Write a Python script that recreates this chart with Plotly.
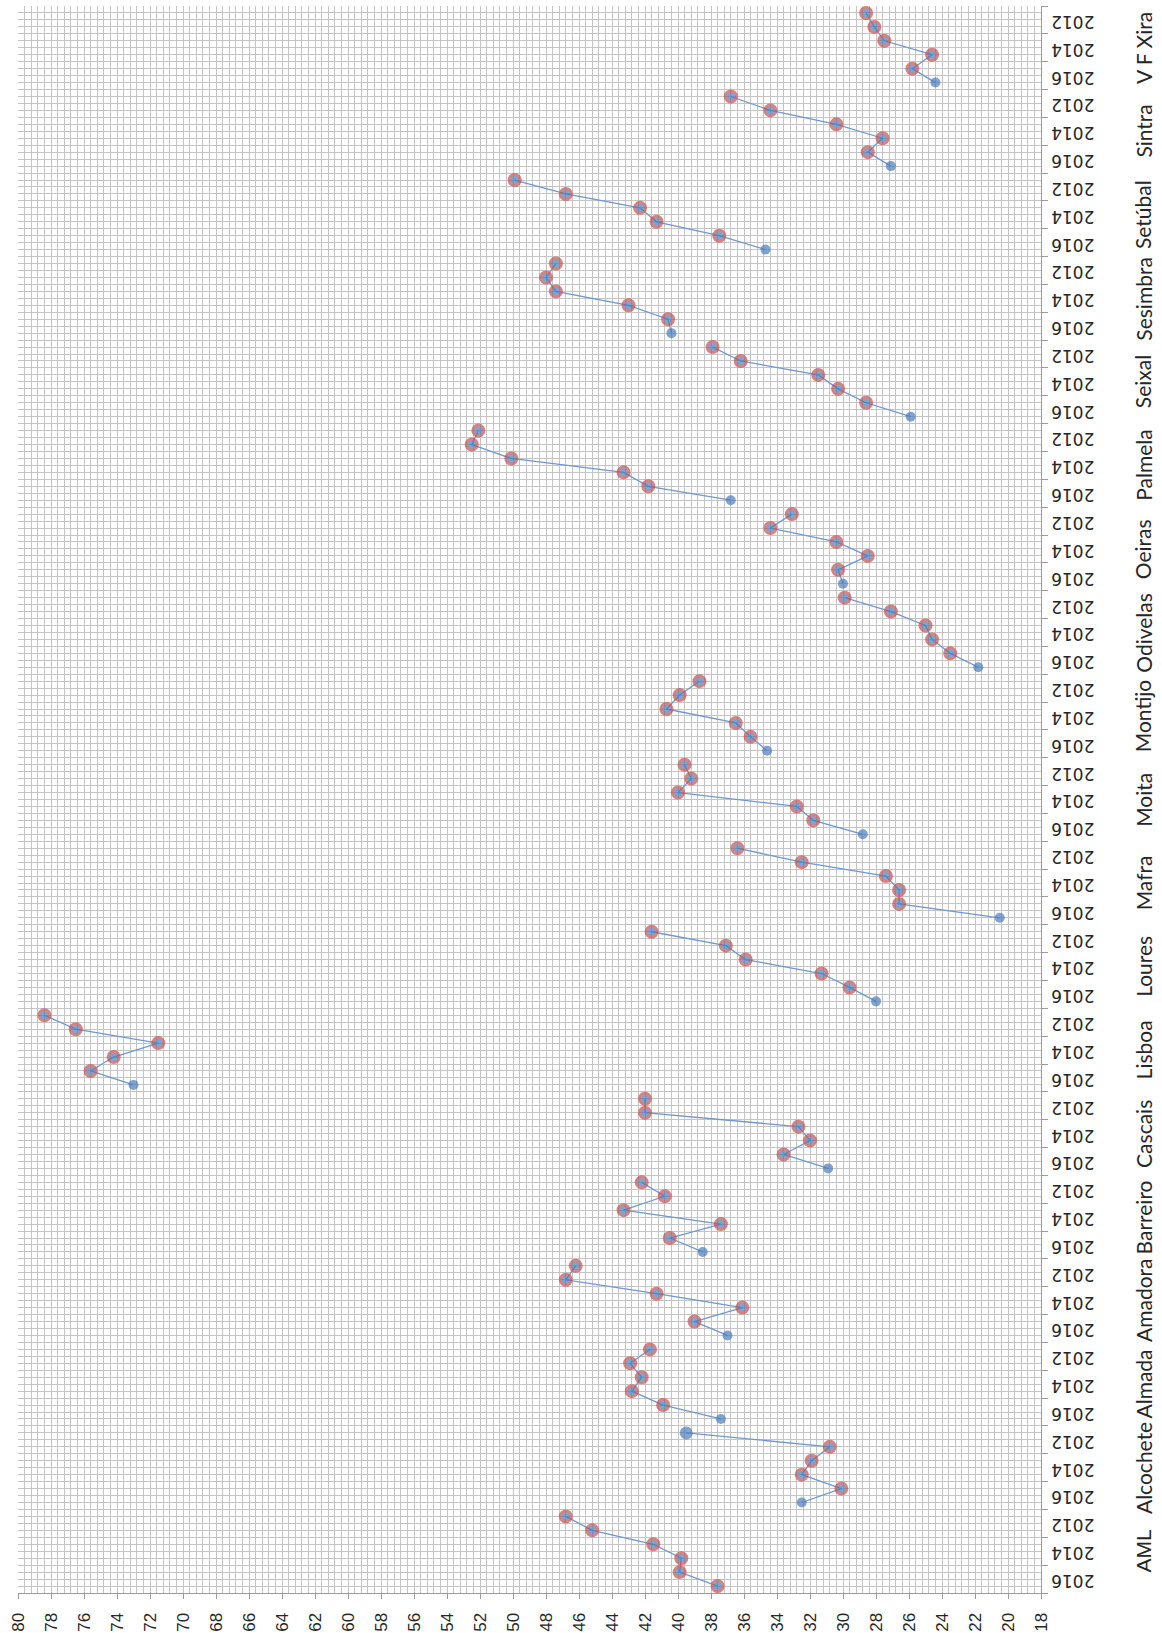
import plotly.graph_objects as go

# ---- data ----
years = [2016, 2015, 2014, 2013, 2012, 2011]
municipios = ["AML", "Alcochete", "Almada", "Amadora", "Barreiro", "Cascais", "Lisboa",
              "Loures", "Mafra", "Moita", "Montijo", "Odivelas", "Oeiras", "Palmela",
              "Seixal", "Sesimbra", "Setúbal", "Sintra", "V F Xira"]

AML = [37.6, 39.9, 39.8, 41.5, 45.2, 46.8]
Alcochete = [32.5, 30.1, 32.5, 31.9, 30.8, 39.5]
Almada = [37.4, 40.9, 42.8, 42.2, 42.9, 41.7]
Amadora = [37.0, 39.0, 36.1, 41.3, 46.8, 46.2]
Barreiro = [38.5, 40.5, 37.4, 43.3, 40.8, 42.2]
Cascais = [30.9, 33.6, 32.0, 32.7, 42.0, 42.0]
Lisboa = [73.0, 75.6, 74.2, 71.5, 76.5, 78.4]
Loures = [28.0, 29.6, 31.3, 35.9, 37.1, 41.6]
Mafra = [20.5, 26.6, 26.6, 27.4, 32.5, 36.4]
Moita = [28.8, 31.8, 32.8, 40.0, 39.2, 39.6]
Montijo = [34.6, 35.6, 36.5, 40.7, 39.9, 38.7]
Odivelas = [21.8, 23.5, 24.6, 25.0, 27.1, 29.9]
Oeiras = [30.0, 30.3, 28.5, 30.4, 34.4, 33.1]
Palmela = [36.8, 41.8, 43.3, 50.1, 52.5, 52.1]
Seixal = [25.9, 28.6, 30.3, 31.5, 36.2, 37.9]
Sesimbra = [40.4, 40.6, 43.0, 47.4, 48.0, 47.4]
Setubal = [34.7, 37.5, 41.3, 42.3, 46.8, 49.9]
Sintra = [27.1, 28.5, 27.6, 30.4, 34.4, 36.8]
VFXira = [24.4, 25.8, 24.6, 27.5, 28.1, 28.6]

series = [AML, Alcochete, Almada, Amadora, Barreiro, Cascais, Lisboa, Loures, Mafra,
          Moita, Montijo, Odivelas, Oeiras, Palmela, Seixal, Sesimbra, Setubal, Sintra, VFXira]

value_ticks = list(range(18, 81, 2))

# ---- build figure ----
n_years = len(years)
n_cat = n_years * len(municipios)

xs, ys, sizes, lcols, lwids = [], [], [], [], []
for g, vals in enumerate(series):
    for k, v in enumerate(vals):
        xs.append(v)
        ys.append(g * n_years + k)
        plain = (k == 0 and g != 0)
        big_plain = (municipios[g] == "Alcochete" and years[k] == 2011)
        if big_plain:
            sizes.append(13); lcols.append("rgba(0,0,0,0)"); lwids.append(0)
        elif plain:
            sizes.append(10); lcols.append("rgba(0,0,0,0)"); lwids.append(0)
        else:
            sizes.append(11); lcols.append("#C8504D"); lwids.append(3)
    xs.append(None)
    ys.append(None)
    sizes.append(0); lcols.append("rgba(0,0,0,0)"); lwids.append(0)

fig = go.Figure()
fig.add_trace(go.Scatter(
    x=xs, y=ys, mode="lines+markers", connectgaps=False,
    line=dict(color="#6F98D0", width=1.3),
    marker=dict(color="#4A7EBB", size=sizes, line=dict(color=lcols, width=lwids)),
    hoverinfo="x+y", showlegend=False,
))

# category tick labels (every second category) and half-step grid lines
cat_vals = [i * 0.5 - 0.5 for i in range(2 * n_cat + 1)]
cat_text = []
for v in cat_vals:
    if v >= 0 and float(v).is_integer() and int(v) % 2 == 0:
        cat_text.append(str(years[int(v) % n_years]))
    else:
        cat_text.append("")

boundary_vals = [-0.5 + 2 * j for j in range(n_cat // 2 + 1)]

grid_col = "#C4C4C4"
text_col = "#262626"
fig.update_layout(
    width=1162, height=1633,
    margin=dict(l=18, r=121, t=6, b=40),
    paper_bgcolor="white", plot_bgcolor="white",
    font=dict(family="Liberation Sans", color=text_col),
    xaxis=dict(
        range=[80, 18], tickmode="array", tickvals=value_ticks,
        ticktext=[str(t) for t in value_ticks],
        tickangle=-90,
        tickfont=dict(size=17, family="Liberation Sans", color=text_col),
        ticks="outside", ticklen=5, tickcolor="#9A9A9A", ticklabelstandoff=7,
        showgrid=True, gridcolor=grid_col, gridwidth=1,
        minor=dict(dtick=0.4, tick0=18, showgrid=True, gridcolor=grid_col, gridwidth=1, ticks=""),
        showline=True, linecolor="#9A9A9A", linewidth=1,
        zeroline=False, fixedrange=True, automargin=False,
    ),
    yaxis=dict(
        range=[-0.5, n_cat - 0.5], side="right", tickmode="array",
        tickvals=cat_vals, ticktext=cat_text, tickangle=180,
        tickfont=dict(size=17, family="DejaVu Sans", color=text_col),
        ticks="", ticklabelstandoff=49, showgrid=True, gridcolor=grid_col, gridwidth=1,
        minor=dict(tickmode="array", tickvals=boundary_vals, ticks="outside",
                   ticklen=6, tickcolor="#9A9A9A", showgrid=False),
        showline=True, linecolor="#9A9A9A", linewidth=1,
        zeroline=False, fixedrange=True, automargin=False,
    ),
)

for g, name in enumerate(municipios):
    fig.add_annotation(
        x=1.1, xref="paper", y=g * n_years + (n_years - 1) / 2, yref="y",
        text=name, textangle=-90, showarrow=False, xanchor="center", yanchor="middle",
        font=dict(size=21,
                  family="Liberation Sans" if name == "AML" else "Lato", color=text_col),
    )

fig.write_html(
    "out.html",
    config={"displayModeBar": False},
    post_script="document.body.style.margin='0';document.body.style.overflow='hidden';",
)
